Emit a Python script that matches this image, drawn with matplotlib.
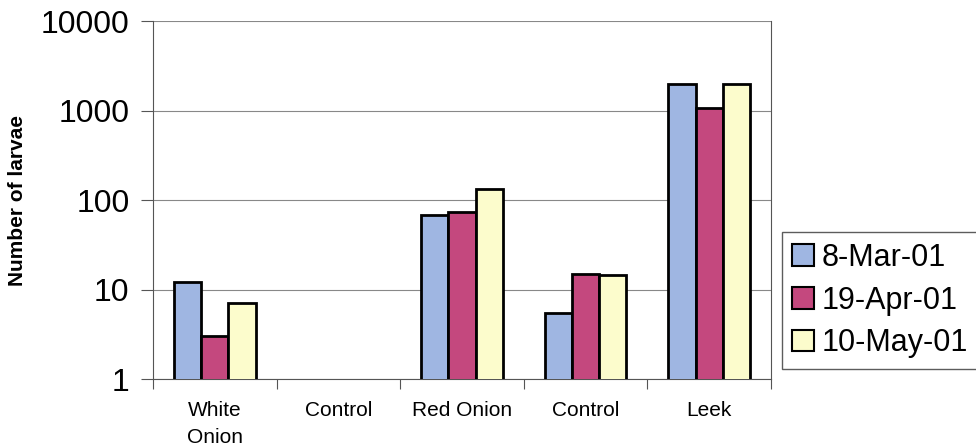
import numpy as np
import matplotlib.pyplot as plt
from matplotlib.ticker import FixedLocator, NullLocator, FixedFormatter

plt.rcParams['font.family'] = ['Liberation Sans', 'DejaVu Sans']

# データ
groups = ["White\nOnion", "Control", "Red Onion", "Control", "Leek"]
dates = ["8-Mar-01", "19-Apr-01", "10-May-01"]
mar = [12, np.nan, 68, 5.5, 1990]
apr = [3, np.nan, 74, 15, 1070]
may = [7, np.nan, 133, 14.5, 2000]
colors = ["#9fb6e2", "#c4487e", "#fcfccc"]

fig = plt.figure(figsize=(9.76, 4.48), dpi=100)
ax = fig.add_axes([0.1568, 0.154, 0.6332, 0.799])

x = np.arange(len(groups))
w = 0.22
for i, (vals, c, lab) in enumerate(zip([mar, apr, may], colors, dates)):
    ax.bar(x + (i - 1) * w, vals, w, bottom=0, color=c, edgecolor="black",
           linewidth=2, label=lab, zorder=3)

ax.set_yscale("log")
ax.set_ylim(1, 10000)
ax.set_xlim(-0.5, len(groups) - 0.5)
ax.yaxis.set_major_locator(FixedLocator([1, 10, 100, 1000, 10000]))
ax.yaxis.set_major_formatter(FixedFormatter(["1", "10", "100", "1000", "10000"]))
ax.yaxis.set_minor_locator(NullLocator())
ax.grid(axis="y", color="#888888", linewidth=0.8, zorder=0)

# x軸の目盛りはグループの境目
ax.set_xticks(np.arange(-0.5, len(groups)), minor=False)
ax.set_xticklabels([])
ax.set_xticks(x, minor=True)
ax.set_xticklabels(groups, minor=True, fontsize=15, linespacing=1.5)
ax.tick_params(axis="x", which="minor", length=0, pad=16)
ax.tick_params(axis="x", which="major", length=7, color="#555555")
ax.tick_params(axis="y", labelsize=23, length=9, color="#555555", pad=8)

for s in ["left", "bottom", "right"]:
    ax.spines[s].set_color("#555555")
ax.spines["top"].set_visible(False)

ax.set_ylabel("Number of larvae", fontsize=15, fontweight="bold", labelpad=10)

leg = fig.legend(loc="upper left", bbox_to_anchor=(0.801, 0.482), fontsize=22,
                 frameon=True, fancybox=False, edgecolor="#333333",
                 handlelength=0.7, handleheight=0.7, handletextpad=0.25,
                 labelspacing=0.42, borderpad=0.35, borderaxespad=0)
for p in leg.get_patches():
    p.set_linewidth(1.5)

fig.savefig("out.png", dpi=100)
